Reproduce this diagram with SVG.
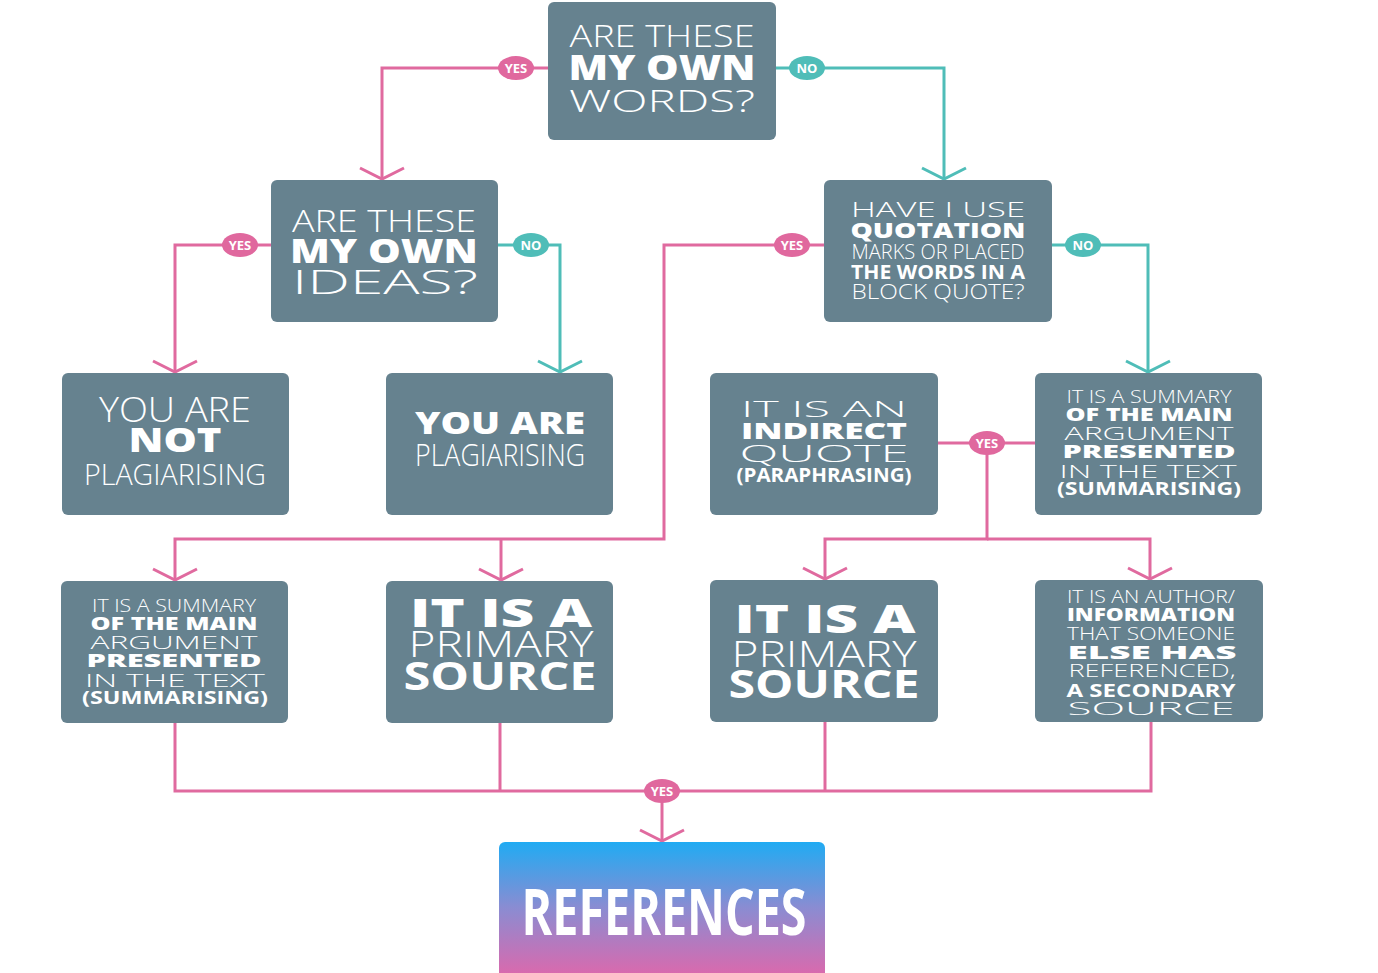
<svg xmlns="http://www.w3.org/2000/svg" width="1378" height="973" viewBox="0 0 1378 973">
<defs>
<style>
.box{fill:#66828f}
.t{fill:#fff;font-family:"Open Sans","Noto Sans","Liberation Sans",sans-serif;text-anchor:middle}
.l{font-weight:300}
.b{font-weight:700}
.x{font-weight:800}
.pk{fill:none;stroke:#e06a9f;stroke-width:3}
.tl{fill:none;stroke:#4fbdb8;stroke-width:3}
.lp{fill:#e0689e}
.lt{fill:#4fbdb8}
.lb{fill:#fff;font-family:"Open Sans","Liberation Sans",sans-serif;font-weight:700;font-size:13px;text-anchor:middle}
</style>
<marker id="ap" markerUnits="userSpaceOnUse" viewBox="-14 -24 16 48" refX="0" refY="0" markerWidth="16" markerHeight="48" orient="auto" overflow="visible">
<path d="M-11,-22 L0,0 L-11,22" fill="none" stroke="#e06a9f" stroke-width="3"/>
</marker>
<marker id="at" markerUnits="userSpaceOnUse" viewBox="-14 -24 16 48" refX="0" refY="0" markerWidth="16" markerHeight="48" orient="auto" overflow="visible">
<path d="M-11,-22 L0,0 L-11,22" fill="none" stroke="#4fbdb8" stroke-width="3"/>
</marker>
<linearGradient id="grad" x1="0" y1="842" x2="0" y2="973" gradientUnits="userSpaceOnUse">
<stop offset="0" stop-color="#20abf3"/>
<stop offset="0.5" stop-color="#8a8cd2"/>
<stop offset="1" stop-color="#d86aae"/>
</linearGradient>
</defs>
<rect width="1378" height="973" fill="#fff"/>

<g id="connectors">
<path class="pk" d="M548,68 H382 V179" marker-end="url(#ap)"/>
<path class="tl" d="M776,68 H944 V179" marker-end="url(#at)"/>
<path class="pk" d="M271,245 H175 V372" marker-end="url(#ap)"/>
<path class="tl" d="M498,245 H560 V372" marker-end="url(#at)"/>
<path class="pk" d="M824,245 H664 V539 H175 V580" marker-end="url(#ap)"/>
<path class="pk" d="M501,539 V580" marker-end="url(#ap)"/>
<path class="tl" d="M1052,245 H1148 V372" marker-end="url(#at)"/>
<path class="pk" d="M938,443 H1035"/>
<path class="pk" d="M987,443 V539 H825 V579" marker-end="url(#ap)"/>
<path class="pk" d="M987,539 H1150 V579" marker-end="url(#ap)"/>
<path class="pk" d="M175,723 V791 H1151 V722"/>
<path class="pk" d="M500,723 V791"/>
<path class="pk" d="M825,722 V791"/>
<path class="pk" d="M662,791 V841" marker-end="url(#ap)"/>
<g id="labels">
<ellipse class="lp" cx="516" cy="68" rx="18" ry="12"/><text class="lb" x="516" y="73">YES</text>
<ellipse class="lt" cx="807" cy="68" rx="18" ry="12"/><text class="lb" x="807" y="73">NO</text>
<ellipse class="lp" cx="240" cy="245" rx="18" ry="12"/><text class="lb" x="240" y="250">YES</text>
<ellipse class="lt" cx="531" cy="245" rx="18" ry="12"/><text class="lb" x="531" y="250">NO</text>
<ellipse class="lp" cx="792" cy="245" rx="18" ry="12"/><text class="lb" x="792" y="250">YES</text>
<ellipse class="lt" cx="1083" cy="245" rx="18" ry="12"/><text class="lb" x="1083" y="250">NO</text>
<ellipse class="lp" cx="987" cy="443" rx="18" ry="12"/><text class="lb" x="987" y="448">YES</text>
<ellipse class="lp" cx="662" cy="791" rx="18" ry="12"/><text class="lb" x="662" y="796">YES</text>
</g>
</g>

<g id="q-words">
<rect class="box" x="548" y="2" width="228" height="138" rx="6"/>
<text class="t l" x="662" y="47" font-size="31" textLength="185" lengthAdjust="spacingAndGlyphs">ARE THESE</text>
<text class="t x" x="662" y="80" font-size="35" textLength="187" lengthAdjust="spacingAndGlyphs">MY OWN</text>
<text class="t l" x="662" y="112" font-size="32" textLength="186" lengthAdjust="spacingAndGlyphs">WORDS?</text>
</g>

<g id="q-ideas">
<rect class="box" x="271" y="180" width="227" height="142" rx="6"/>
<text class="t l" x="384" y="232" font-size="32" textLength="184" lengthAdjust="spacingAndGlyphs">ARE THESE</text>
<text class="t x" x="384" y="263" font-size="33" textLength="188" lengthAdjust="spacingAndGlyphs">MY OWN</text>
<text class="t l" x="385" y="294" font-size="33" textLength="186" lengthAdjust="spacingAndGlyphs">IDEAS?</text>
</g>

<g id="q-quotation">
<rect class="box" x="824" y="180" width="228" height="142" rx="6"/>
<text class="t l" x="938" y="217" font-size="20" textLength="174" lengthAdjust="spacingAndGlyphs">HAVE I USE</text>
<text class="t x" x="938" y="238" font-size="21" textLength="175" lengthAdjust="spacingAndGlyphs">QUOTATION</text>
<text class="t l" x="938" y="259" font-size="20" textLength="173" lengthAdjust="spacingAndGlyphs">MARKS OR PLACED</text>
<text class="t b" x="938" y="279" font-size="20" textLength="174" lengthAdjust="spacingAndGlyphs">THE WORDS IN A</text>
<text class="t l" x="938" y="299" font-size="20" textLength="173" lengthAdjust="spacingAndGlyphs">BLOCK QUOTE?</text>
</g>

<g id="not-plagiarising">
<rect class="box" x="62" y="373" width="227" height="142" rx="6"/>
<text class="t l" x="175" y="422" font-size="35" textLength="152" lengthAdjust="spacingAndGlyphs">YOU ARE</text>
<text class="t x" x="175" y="452" font-size="33" textLength="93" lengthAdjust="spacingAndGlyphs">NOT</text>
<text class="t l" x="175" y="485" font-size="30" textLength="182" lengthAdjust="spacingAndGlyphs">PLAGIARISING</text>
</g>

<g id="plagiarising">
<rect class="box" x="386" y="373" width="227" height="142" rx="6"/>
<text class="t x" x="500" y="434" font-size="30" textLength="170" lengthAdjust="spacingAndGlyphs">YOU ARE</text>
<text class="t l" x="500" y="466" font-size="31" textLength="170" lengthAdjust="spacingAndGlyphs">PLAGIARISING</text>
</g>

<g id="indirect-quote">
<rect class="box" x="710" y="373" width="228" height="142" rx="6"/>
<text class="t l" x="824" y="417" font-size="22" textLength="166" lengthAdjust="spacingAndGlyphs">IT IS AN</text>
<text class="t x" x="824" y="439" font-size="23" textLength="166" lengthAdjust="spacingAndGlyphs">INDIRECT</text>
<text class="t l" x="824" y="462" font-size="23" textLength="169" lengthAdjust="spacingAndGlyphs">QUOTE</text>
<text class="t b" x="824" y="482" font-size="20" textLength="175" lengthAdjust="spacingAndGlyphs">(PARAPHRASING)</text>
</g>

<g id="summary-right">
<rect class="box" x="1035" y="373" width="227" height="142" rx="6"/>
<text class="t l" x="1149" y="403" font-size="18" textLength="165" lengthAdjust="spacingAndGlyphs">IT IS A SUMMARY</text>
<text class="t x" x="1149" y="421" font-size="18" textLength="167" lengthAdjust="spacingAndGlyphs">OF THE MAIN</text>
<text class="t l" x="1149" y="440" font-size="18" textLength="169" lengthAdjust="spacingAndGlyphs">ARGUMENT</text>
<text class="t x" x="1149" y="458" font-size="18" textLength="173" lengthAdjust="spacingAndGlyphs">PRESENTED</text>
<text class="t l" x="1148" y="478" font-size="18" textLength="177" lengthAdjust="spacingAndGlyphs">IN THE TEXT</text>
<text class="t b" x="1149" y="495" font-size="18" textLength="184" lengthAdjust="spacingAndGlyphs">(SUMMARISING)</text>
</g>

<g id="summary-left">
<rect class="box" x="61" y="581" width="227" height="142" rx="6"/>
<text class="t l" x="174" y="612" font-size="18" textLength="164" lengthAdjust="spacingAndGlyphs">IT IS A SUMMARY</text>
<text class="t x" x="174" y="630" font-size="18" textLength="167" lengthAdjust="spacingAndGlyphs">OF THE MAIN</text>
<text class="t l" x="174" y="649" font-size="18" textLength="167" lengthAdjust="spacingAndGlyphs">ARGUMENT</text>
<text class="t x" x="174" y="667" font-size="18" textLength="175" lengthAdjust="spacingAndGlyphs">PRESENTED</text>
<text class="t l" x="175" y="687" font-size="18" textLength="180" lengthAdjust="spacingAndGlyphs">IN THE TEXT</text>
<text class="t b" x="175" y="704" font-size="18" textLength="186" lengthAdjust="spacingAndGlyphs">(SUMMARISING)</text>
</g>

<g id="primary-1">
<rect class="box" x="386" y="581" width="227" height="142" rx="6"/>
<text class="t x" x="501" y="627" font-size="39" textLength="182" lengthAdjust="spacingAndGlyphs">IT IS A</text>
<text class="t l" x="501" y="657" font-size="36" textLength="185" lengthAdjust="spacingAndGlyphs">PRIMARY</text>
<text class="t b" x="500" y="690" font-size="39" textLength="193" lengthAdjust="spacingAndGlyphs">SOURCE</text>
</g>

<g id="primary-2">
<rect class="box" x="710" y="580" width="228" height="142" rx="6"/>
<text class="t x" x="825" y="633" font-size="39" textLength="181" lengthAdjust="spacingAndGlyphs">IT IS A</text>
<text class="t l" x="824" y="667" font-size="36" textLength="185" lengthAdjust="spacingAndGlyphs">PRIMARY</text>
<text class="t b" x="824" y="698" font-size="39" textLength="191" lengthAdjust="spacingAndGlyphs">SOURCE</text>
</g>

<g id="secondary-source">
<rect class="box" x="1035" y="580" width="228" height="142" rx="6"/>
<text class="t l" x="1151" y="603" font-size="18" textLength="168" lengthAdjust="spacingAndGlyphs">IT IS AN AUTHOR/</text>
<text class="t x" x="1151" y="621" font-size="18" textLength="168" lengthAdjust="spacingAndGlyphs">INFORMATION</text>
<text class="t l" x="1151" y="640" font-size="18" textLength="168" lengthAdjust="spacingAndGlyphs">THAT SOMEONE</text>
<text class="t x" x="1152" y="659" font-size="18" textLength="169" lengthAdjust="spacingAndGlyphs">ELSE HAS</text>
<text class="t l" x="1152" y="677" font-size="18" textLength="167" lengthAdjust="spacingAndGlyphs">REFERENCED,</text>
<text class="t b" x="1151" y="697" font-size="18" textLength="169" lengthAdjust="spacingAndGlyphs">A SECONDARY</text>
<text class="t l" x="1151" y="715" font-size="18" textLength="167" lengthAdjust="spacingAndGlyphs">SOURCE</text>
</g>

<g id="references">
<rect x="499" y="842" width="326" height="150" rx="6" fill="url(#grad)"/>
<text class="t b" x="664" y="935" font-size="64" textLength="285" lengthAdjust="spacingAndGlyphs">REFERENCES</text>
</g>
</svg>
